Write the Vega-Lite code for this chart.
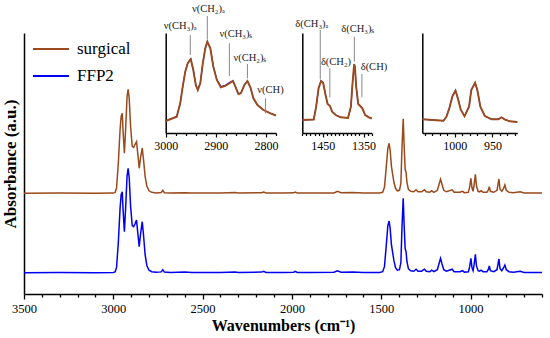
{
  "$schema": "https://vega.github.io/schema/vega-lite/v6.json",
  "width": 518,
  "height": 261,
  "autosize": "none",
  "padding": {"left": 24, "top": 33, "right": 8, "bottom": 44},
  "config": {
    "view": {"stroke": null},
    "font": "Liberation Serif",
    "axis": {"grid": false, "domainColor": "black", "tickColor": "black", "labelColor": "black", "titleColor": "black", "labelFont": "Liberation Serif", "titleFont": "Liberation Serif"},
    "legend": {"labelFont": "Liberation Serif"}
  },
  "datasets": {
    "main": [
      {"wn":3500,"surgical":1.007,"FFP2":0.213},{"wn":3300,"surgical":1.009,"FFP2":0.215},{"wn":3100,"surgical":1.007,"FFP2":0.213},{"wn":3000,"surgical":1.009,"FFP2":0.215},
      {"wn":2990,"surgical":1.015,"FFP2":0.221},{"wn":2982,"surgical":1.057,"FFP2":0.263},{"wn":2972,"surgical":1.307,"FFP2":0.513},{"wn":2962,"surgical":1.647,"FFP2":0.863},
      {"wn":2956,"surgical":1.777,"FFP2":0.993},{"wn":2950,"surgical":1.807,"FFP2":1.023},{"wn":2945,"surgical":1.617,"FFP2":0.833},{"wn":2938,"surgical":1.407,"FFP2":0.623},
      {"wn":2931,"surgical":1.647,"FFP2":0.863},{"wn":2923,"surgical":1.977,"FFP2":1.183},{"wn":2917,"surgical":2.047,"FFP2":1.257},{"wn":2911,"surgical":1.957,"FFP2":1.163},
      {"wn":2903,"surgical":1.667,"FFP2":0.873},{"wn":2894,"surgical":1.477,"FFP2":0.683},{"wn":2886,"surgical":1.467,"FFP2":0.673},{"wn":2878,"surgical":1.497,"FFP2":0.703},
      {"wn":2870,"surgical":1.523,"FFP2":0.74},{"wn":2862,"surgical":1.387,"FFP2":0.593},{"wn":2855,"surgical":1.257,"FFP2":0.473},{"wn":2848,"surgical":1.357,"FFP2":0.593},
      {"wn":2838,"surgical":1.46,"FFP2":0.723},{"wn":2831,"surgical":1.347,"FFP2":0.593},{"wn":2822,"surgical":1.177,"FFP2":0.393},{"wn":2812,"surgical":1.077,"FFP2":0.283},
      {"wn":2800,"surgical":1.032,"FFP2":0.238},{"wn":2785,"surgical":1.017,"FFP2":0.223},{"wn":2760,"surgical":1.011,"FFP2":0.217},{"wn":2732,"surgical":1.015,"FFP2":0.221},
      {"wn":2723,"surgical":1.037,"FFP2":0.243},{"wn":2714,"surgical":1.013,"FFP2":0.219},{"wn":2680,"surgical":1.01,"FFP2":0.216},{"wn":2600,"surgical":1.013,"FFP2":0.219},
      {"wn":2560,"surgical":1.009,"FFP2":0.215},{"wn":2400,"surgical":1.01,"FFP2":0.216},{"wn":2318,"surgical":1.015,"FFP2":0.221},{"wn":2300,"surgical":1.01,"FFP2":0.216},
      {"wn":2170,"surgical":1.013,"FFP2":0.219},{"wn":2158,"surgical":1.02,"FFP2":0.226},{"wn":2145,"surgical":1.01,"FFP2":0.216},{"wn":2050,"surgical":1.01,"FFP2":0.216},
      {"wn":1990,"surgical":1.012,"FFP2":0.218},{"wn":1982,"surgical":1.02,"FFP2":0.226},{"wn":1970,"surgical":1.01,"FFP2":0.216},{"wn":1900,"surgical":1.009,"FFP2":0.215},
      {"wn":1765,"surgical":1.011,"FFP2":0.217},{"wn":1745,"surgical":1.027,"FFP2":0.233},{"wn":1725,"surgical":1.012,"FFP2":0.218},{"wn":1660,"surgical":1.015,"FFP2":0.221},
      {"wn":1600,"surgical":1.01,"FFP2":0.216},{"wn":1510,"surgical":1.01,"FFP2":0.216},{"wn":1492,"surgical":1.017,"FFP2":0.223},{"wn":1482,"surgical":1.067,"FFP2":0.273},
      {"wn":1472,"surgical":1.267,"FFP2":0.483},{"wn":1463,"surgical":1.457,"FFP2":0.683},{"wn":1456,"surgical":1.507,"FFP2":0.73},{"wn":1450,"surgical":1.437,"FFP2":0.653},
      {"wn":1443,"surgical":1.277,"FFP2":0.493},{"wn":1436,"surgical":1.197,"FFP2":0.413},{"wn":1429,"surgical":1.117,"FFP2":0.333},{"wn":1420,"surgical":1.057,"FFP2":0.263},
      {"wn":1410,"surgical":1.032,"FFP2":0.238},{"wn":1398,"surgical":1.037,"FFP2":0.243},{"wn":1390,"surgical":1.107,"FFP2":0.313},{"wn":1384,"surgical":1.457,"FFP2":0.663},
      {"wn":1377,"surgical":1.751,"FFP2":0.957},{"wn":1372,"surgical":1.487,"FFP2":0.693},{"wn":1366,"surgical":1.247,"FFP2":0.453},{"wn":1361,"surgical":1.217,"FFP2":0.423},
      {"wn":1356,"surgical":1.117,"FFP2":0.323},{"wn":1348,"surgical":1.047,"FFP2":0.253},{"wn":1335,"surgical":1.027,"FFP2":0.233},{"wn":1318,"surgical":1.022,"FFP2":0.228},
      {"wn":1305,"surgical":1.042,"FFP2":0.248},{"wn":1294,"surgical":1.022,"FFP2":0.228},{"wn":1275,"surgical":1.022,"FFP2":0.228},{"wn":1258,"surgical":1.042,"FFP2":0.248},
      {"wn":1248,"surgical":1.022,"FFP2":0.228},{"wn":1228,"surgical":1.017,"FFP2":0.223},{"wn":1218,"surgical":1.032,"FFP2":0.238},{"wn":1205,"surgical":1.017,"FFP2":0.223},
      {"wn":1186,"surgical":1.037,"FFP2":0.243},{"wn":1168,"surgical":1.147,"FFP2":0.357},{"wn":1160,"surgical":1.097,"FFP2":0.303},{"wn":1150,"surgical":1.037,"FFP2":0.243},
      {"wn":1135,"surgical":1.022,"FFP2":0.228},{"wn":1103,"surgical":1.042,"FFP2":0.248},{"wn":1092,"surgical":1.017,"FFP2":0.223},{"wn":1060,"surgical":1.017,"FFP2":0.223},
      {"wn":1045,"surgical":1.027,"FFP2":0.233},{"wn":1035,"surgical":1.013,"FFP2":0.219},{"wn":1012,"surgical":1.017,"FFP2":0.223},{"wn":1005,"surgical":1.072,"FFP2":0.273},
      {"wn":998,"surgical":1.157,"FFP2":0.357},{"wn":992,"surgical":1.062,"FFP2":0.263},{"wn":986,"surgical":1.027,"FFP2":0.233},{"wn":980,"surgical":1.092,"FFP2":0.293},
      {"wn":973,"surgical":1.197,"FFP2":0.397},{"wn":967,"surgical":1.082,"FFP2":0.283},{"wn":958,"surgical":1.027,"FFP2":0.233},{"wn":949,"surgical":1.022,"FFP2":0.228},
      {"wn":941,"surgical":1.032,"FFP2":0.238},{"wn":930,"surgical":1.017,"FFP2":0.223},{"wn":908,"surgical":1.017,"FFP2":0.223},{"wn":900,"surgical":1.042,"FFP2":0.248},
      {"wn":895,"surgical":1.074,"FFP2":0.28},{"wn":889,"surgical":1.027,"FFP2":0.233},{"wn":870,"surgical":1.017,"FFP2":0.223},{"wn":852,"surgical":1.037,"FFP2":0.243},
      {"wn":841,"surgical":1.15,"FFP2":0.35},{"wn":835,"surgical":1.047,"FFP2":0.253},{"wn":825,"surgical":1.027,"FFP2":0.233},{"wn":815,"surgical":1.057,"FFP2":0.263},
      {"wn":808,"surgical":1.09,"FFP2":0.29},{"wn":800,"surgical":1.037,"FFP2":0.243},{"wn":785,"surgical":1.017,"FFP2":0.223},{"wn":760,"surgical":1.012,"FFP2":0.218},
      {"wn":722,"surgical":1.022,"FFP2":0.228},{"wn":700,"surgical":1.01,"FFP2":0.216},{"wn":650,"surgical":1.009,"FFP2":0.215},{"wn":600,"surgical":1.009,"FFP2":0.215}
    ],
    "in1": [
      {"wn":3000,"surgical":0.12,"FFP2":0.12},{"wn":2978,"surgical":0.163,"FFP2":0.165},{"wn":2971,"surgical":0.297,"FFP2":0.3},{"wn":2966,"surgical":0.463,"FFP2":0.468},
      {"wn":2961,"surgical":0.613,"FFP2":0.615},{"wn":2956,"surgical":0.697,"FFP2":0.7},{"wn":2950,"surgical":0.737,"FFP2":0.74},{"wn":2945,"surgical":0.63,"FFP2":0.635},
      {"wn":2940,"surgical":0.48,"FFP2":0.485},{"wn":2936,"surgical":0.43,"FFP2":0.435},{"wn":2931,"surgical":0.497,"FFP2":0.5},{"wn":2926,"surgical":0.697,"FFP2":0.7},
      {"wn":2921,"surgical":0.847,"FFP2":0.85},{"wn":2917,"surgical":0.913,"FFP2":0.915},{"wn":2911,"surgical":0.847,"FFP2":0.85},{"wn":2905,"surgical":0.663,"FFP2":0.665},
      {"wn":2898,"surgical":0.53,"FFP2":0.535},{"wn":2890,"surgical":0.457,"FFP2":0.465},{"wn":2881,"surgical":0.47,"FFP2":0.478},{"wn":2871,"surgical":0.503,"FFP2":0.51},
      {"wn":2866,"surgical":0.52,"FFP2":0.522},{"wn":2861,"surgical":0.463,"FFP2":0.465},{"wn":2855,"surgical":0.39,"FFP2":0.392},{"wn":2850,"surgical":0.397,"FFP2":0.4},
      {"wn":2843,"surgical":0.48,"FFP2":0.482},{"wn":2837,"surgical":0.52,"FFP2":0.52},{"wn":2831,"surgical":0.457,"FFP2":0.455},{"wn":2825,"surgical":0.347,"FFP2":0.345},
      {"wn":2817,"surgical":0.28,"FFP2":0.28},{"wn":2805,"surgical":0.23,"FFP2":0.23},{"wn":2791,"surgical":0.197,"FFP2":0.197},{"wn":2780,"surgical":0.175,"FFP2":0.175}
    ],
    "in2": [
      {"wn":1500,"surgical":0.13,"FFP2":0.13},{"wn":1472,"surgical":0.135,"FFP2":0.135},{"wn":1466,"surgical":0.263,"FFP2":0.265},{"wn":1460,"surgical":0.45,"FFP2":0.452},
      {"wn":1454,"surgical":0.52,"FFP2":0.522},{"wn":1449,"surgical":0.503,"FFP2":0.505},{"wn":1443,"surgical":0.38,"FFP2":0.382},{"wn":1438,"surgical":0.29,"FFP2":0.29},
      {"wn":1432,"surgical":0.27,"FFP2":0.27},{"wn":1427,"surgical":0.213,"FFP2":0.213},{"wn":1418,"surgical":0.18,"FFP2":0.18},{"wn":1406,"surgical":0.157,"FFP2":0.157},
      {"wn":1388,"surgical":0.15,"FFP2":0.15},{"wn":1381,"surgical":0.263,"FFP2":0.26},{"wn":1377,"surgical":0.497,"FFP2":0.49},{"wn":1373,"surgical":0.69,"FFP2":0.68},
      {"wn":1371,"surgical":0.663,"FFP2":0.655},{"wn":1368,"surgical":0.463,"FFP2":0.46},{"wn":1363,"surgical":0.29,"FFP2":0.29},{"wn":1358,"surgical":0.27,"FFP2":0.27},
      {"wn":1353,"surgical":0.247,"FFP2":0.247},{"wn":1346,"surgical":0.18,"FFP2":0.18},{"wn":1337,"surgical":0.157,"FFP2":0.157},{"wn":1330,"surgical":0.145,"FFP2":0.145}
    ],
    "in3": [
      {"wn":1043,"surgical":0.137,"FFP2":0.137},{"wn":1015,"surgical":0.123,"FFP2":0.123},{"wn":1011,"surgical":0.163,"FFP2":0.165},{"wn":1007,"surgical":0.25,"FFP2":0.255},
      {"wn":1003,"surgical":0.367,"FFP2":0.372},{"wn":999,"surgical":0.423,"FFP2":0.428},{"wn":996,"surgical":0.35,"FFP2":0.355},{"wn":992,"surgical":0.233,"FFP2":0.235},
      {"wn":987,"surgical":0.167,"FFP2":0.17},{"wn":981,"surgical":0.263,"FFP2":0.265},{"wn":978,"surgical":0.43,"FFP2":0.432},{"wn":973,"surgical":0.503,"FFP2":0.5},
      {"wn":970,"surgical":0.43,"FFP2":0.43},{"wn":966,"surgical":0.263,"FFP2":0.263},{"wn":960,"surgical":0.17,"FFP2":0.17},{"wn":951,"surgical":0.137,"FFP2":0.137},
      {"wn":942,"surgical":0.137,"FFP2":0.137},{"wn":938,"surgical":0.157,"FFP2":0.157},{"wn":934,"surgical":0.137,"FFP2":0.137},{"wn":927,"surgical":0.117,"FFP2":0.117},
      {"wn":917,"surgical":0.11,"FFP2":0.11}
    ],
    "lab1": [
      {"lab":"ν(CH₃)ₐ","tx":2971,"ty":1.07,"lx":2951,"y1":0.98,"y2":0.78},
      {"lab":"ν(CH₂)ₐ","tx":2915,"ty":1.237,"lx":2917,"y1":1.17,"y2":0.937},
      {"lab":"ν(CH₃)ₛ","tx":2860,"ty":0.99,"lx":2873,"y1":0.897,"y2":0.57},
      {"lab":"ν(CH₂)ₛ","tx":2832,"ty":0.755,"lx":2837,"y1":0.69,"y2":0.547},
      {"lab":"ν(CH)","tx":2791,"ty":0.435,"lx":2801,"y1":0.347,"y2":0.197}
    ],
    "lab2": [
      {"lab":"δ(CH₃)ₐ","tx":1476.5,"ty":1.092,"lx":1456,"y1":1.03,"y2":0.537},
      {"lab":"δ(CH₂)","tx":1417.5,"ty":0.713,"lx":1432.5,"y1":0.647,"y2":0.357},
      {"lab":"δ(CH₃)ₛ","tx":1364,"ty":1.038,"lx":1372.5,"y1":0.963,"y2":0.713},
      {"lab":"δ(CH)","tx":1324.5,"ty":0.662,"lx":1354,"y1":0.59,"y2":0.357}
    ]
  },
  "layer": [
    {
      "data": {"name": "main"},
      "transform": [{"fold": ["FFP2", "surgical"], "as": ["sample", "a"]}],
      "mark": {"type": "line", "strokeWidth": 1.5},
      "encoding": {
        "x": {"field": "wn", "type": "quantitative",
          "scale": {"domain": [600, 3500], "reverse": true, "nice": false, "zero": false},
          "axis": {"title": "Wavenumbers (cm⁻¹)", "values": [3500,3400,3300,3200,3100,3000,2900,2800,2700,2600,2500,2400,2300,2200,2100,2000,1900,1800,1700,1600,1500,1400,1300,1200,1100,1000,900,800,700,600],
            "format": "d", "labelExpr": "datum.value % 500 === 0 ? datum.label : ''",
            "tickSize": {"condition": {"test": "datum.value % 500 === 0", "value": 5}, "value": 3},
            "labelFontSize": 12.5, "labelPadding": 3, "labelFlush": false, "labelOverlap": false, "labelBound": false,
            "titleFontSize": 16, "titleFontWeight": "bold", "titlePadding": 3, "domainWidth": 1.5, "tickWidth": 1.3}},
        "y": {"field": "a", "type": "quantitative",
          "scale": {"domain": [0, 2.61], "nice": false, "zero": false},
          "axis": {"title": "Absorbance (a.u.)", "ticks": false, "labels": false, "titleFontSize": 17, "titleFontWeight": "bold", "titlePadding": 5, "domainWidth": 1.5}},
        "color": {"field": "sample", "type": "nominal",
          "scale": {"domain": ["surgical", "FFP2"], "range": ["#9A4A1C", "#0000F0"]},
          "legend": {"orient": "none", "legendX": 8, "legendY": -3, "title": null, "symbolType": "stroke", "symbolSize": 1296, "symbolStrokeWidth": 2, "labelFontSize": 17, "labelOffset": 7, "rowPadding": -16, "padding": 0}}
      }
    },
    {
      "data": {"name": "in1"},
      "transform": [{"fold": ["FFP2", "surgical"], "as": ["sample", "a"]}],
      "mark": {"type": "line"},
      "encoding": {
        "x": {"field": "wn", "type": "quantitative", "scale": {"domain": [2780, 3000], "range": [252, 141.7], "nice": false, "zero": false},
          "axis": {"orient": "bottom", "offset": -161, "title": null, "values": [3000,2980,2960,2940,2920,2900,2880,2860,2840,2820,2800,2780], "format": "d",
            "labelExpr": "datum.value % 100 === 0 ? datum.label : ''",
            "tickSize": {"condition": {"test": "datum.value % 100 === 0", "value": 4}, "value": 2.5},
            "labelFontSize": 12, "labelPadding": 3, "labelFlush": false, "labelOverlap": false, "labelBound": false, "domainWidth": 1.5, "tickWidth": 1.2}},
        "y": {"field": "a", "type": "quantitative", "scale": {"domain": [0, 1], "range": [100, 0], "nice": false, "zero": false},
          "axis": {"orient": "left", "offset": -141.7, "title": null, "ticks": false, "labels": false, "domainWidth": 1.5}},
        "color": {"field": "sample", "type": "nominal", "legend": null},
        "strokeWidth": {"field": "sample", "type": "nominal", "scale": {"domain": ["surgical", "FFP2"], "range": [1.9, 1.1]}, "legend": null}
      }
    },
    {
      "data": {"name": "lab1"},
      "mark": {"type": "rule", "color": "#888888", "strokeWidth": 1},
      "encoding": {
        "x": {"field": "lx", "type": "quantitative", "scale": {"domain": [2780, 3000], "range": [252, 141.7], "nice": false, "zero": false}, "axis": null},
        "y": {"field": "y1", "type": "quantitative", "scale": {"domain": [0, 1], "range": [100, 0], "nice": false, "zero": false}, "axis": null},
        "y2": {"field": "y2"}
      }
    },
    {
      "data": {"name": "lab1"},
      "mark": {"type": "text", "fontSize": 10.5, "baseline": "middle", "color": "#222222", "font": "Liberation Serif"},
      "encoding": {
        "x": {"field": "tx", "type": "quantitative", "scale": {"domain": [2780, 3000], "range": [252, 141.7], "nice": false, "zero": false}, "axis": null},
        "y": {"field": "ty", "type": "quantitative", "scale": {"domain": [0, 1], "range": [100, 0], "nice": false, "zero": false}, "axis": null},
        "text": {"field": "lab"}
      }
    },
    {
      "data": {"name": "in2"},
      "transform": [{"fold": ["FFP2", "surgical"], "as": ["sample", "a"]}],
      "mark": {"type": "line"},
      "encoding": {
        "x": {"field": "wn", "type": "quantitative", "scale": {"domain": [1330, 1500], "range": [347.7, 278.3], "nice": false, "zero": false},
          "axis": {"orient": "bottom", "offset": -161, "title": null, "values": [1500,1490,1480,1470,1460,1450,1440,1430,1420,1410,1400,1390,1380,1370,1360,1350,1340,1330], "format": "d",
            "labelExpr": "datum.value % 100 === 50 ? datum.label : ''",
            "tickSize": {"condition": {"test": "datum.value % 100 === 50", "value": 4}, "value": 2.5},
            "labelFontSize": 12, "labelPadding": 3, "labelFlush": false, "labelOverlap": false, "labelBound": false, "domainWidth": 1.5, "tickWidth": 1.2}},
        "y": {"field": "a", "type": "quantitative", "scale": {"domain": [0, 1], "range": [100, 0], "nice": false, "zero": false},
          "axis": {"orient": "left", "offset": -278.3, "title": null, "ticks": false, "labels": false, "domainWidth": 1.5}},
        "color": {"field": "sample", "type": "nominal", "legend": null},
        "strokeWidth": {"field": "sample", "type": "nominal", "scale": {"domain": ["surgical", "FFP2"], "range": [1.9, 1.1]}, "legend": null}
      }
    },
    {
      "data": {"name": "lab2"},
      "mark": {"type": "rule", "color": "#888888", "strokeWidth": 1},
      "encoding": {
        "x": {"field": "lx", "type": "quantitative", "scale": {"domain": [1330, 1500], "range": [347.7, 278.3], "nice": false, "zero": false}, "axis": null},
        "y": {"field": "y1", "type": "quantitative", "scale": {"domain": [0, 1], "range": [100, 0], "nice": false, "zero": false}, "axis": null},
        "y2": {"field": "y2"}
      }
    },
    {
      "data": {"name": "lab2"},
      "mark": {"type": "text", "fontSize": 10.5, "baseline": "middle", "color": "#222222", "font": "Liberation Serif"},
      "encoding": {
        "x": {"field": "tx", "type": "quantitative", "scale": {"domain": [1330, 1500], "range": [347.7, 278.3], "nice": false, "zero": false}, "axis": null},
        "y": {"field": "ty", "type": "quantitative", "scale": {"domain": [0, 1], "range": [100, 0], "nice": false, "zero": false}, "axis": null},
        "text": {"field": "lab"}
      }
    },
    {
      "data": {"name": "in3"},
      "transform": [{"fold": ["FFP2", "surgical"], "as": ["sample", "a"]}],
      "mark": {"type": "line"},
      "encoding": {
        "x": {"field": "wn", "type": "quantitative", "scale": {"domain": [917, 1043], "range": [493.3, 398.3], "nice": false, "zero": false},
          "axis": {"orient": "bottom", "offset": -161, "title": null, "values": [1040,1030,1020,1010,1000,990,980,970,960,950,940,930,920], "format": "d",
            "labelExpr": "datum.value % 50 === 0 ? datum.label : ''",
            "tickSize": {"condition": {"test": "datum.value % 50 === 0", "value": 4}, "value": 2.5},
            "labelFontSize": 12, "labelPadding": 3, "labelFlush": false, "labelOverlap": false, "labelBound": false, "domainWidth": 1.5, "tickWidth": 1.2}},
        "y": {"field": "a", "type": "quantitative", "scale": {"domain": [0, 1], "range": [100, 0], "nice": false, "zero": false},
          "axis": {"orient": "left", "offset": -398.3, "title": null, "ticks": false, "labels": false, "domainWidth": 1.5}},
        "color": {"field": "sample", "type": "nominal", "legend": null},
        "strokeWidth": {"field": "sample", "type": "nominal", "scale": {"domain": ["surgical", "FFP2"], "range": [1.9, 1.1]}, "legend": null}
      }
    }
  ],
  "resolve": {"scale": {"x": "independent", "y": "independent", "color": "shared", "strokeWidth": "independent"}, "axis": {"x": "independent", "y": "independent"}, "legend": {"strokeWidth": "independent"}}
}
